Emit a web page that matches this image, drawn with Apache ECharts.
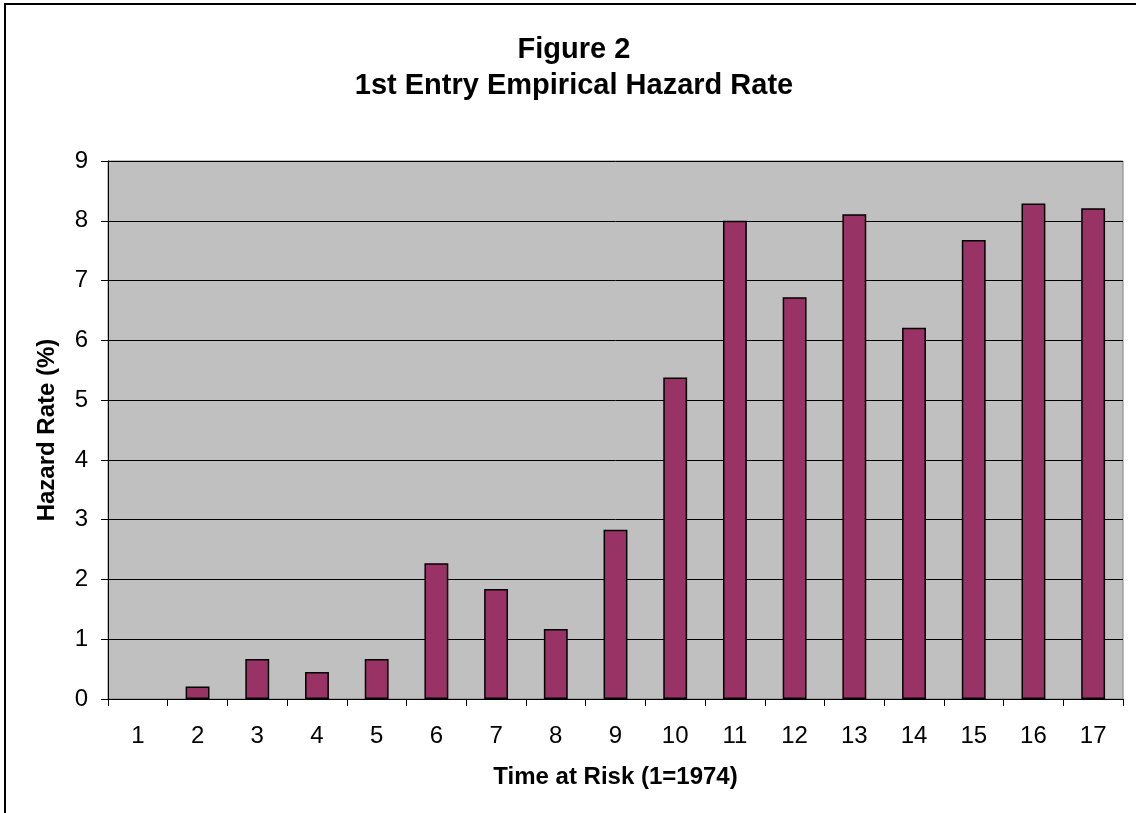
<!DOCTYPE html>
<html>
<head>
<meta charset="utf-8">
<title>Figure 2</title>
<script src="https://cdn.jsdelivr.net/npm/echarts@6/dist/echarts.min.js"></script>
<style>
  html, body {
    margin: 0;
    padding: 0;
    width: 1136px;
    height: 813px;
    overflow: hidden;
    background: #fff;
  }
  #chart {
    position: absolute;
    left: 0;
    top: 0;
    width: 1148px;
    height: 813px;
  }
  .frame {
    position: absolute;
    left: 4px;
    top: 3px;
    width: 1150px;
    height: 830px;
    border: 2px solid #000;
    pointer-events: none;
  }
</style>
</head>
<body>
<div id="chart"></div>
<div class="frame"></div>
<script>
// time at risk, 1 = 1974
const categories = ['1', '2', '3', '4', '5', '6', '7', '8', '9', '10', '11', '12', '13', '14', '15', '16', '17'];
// empirical hazard rate (%)
const hazardRate = [0, 0.21, 0.67, 0.45, 0.67, 2.27, 1.84, 1.17, 2.83, 5.38, 8.0, 6.72, 8.11, 6.21, 7.68, 8.29, 8.21];
const yTicks = [0, 1, 2, 3, 4, 5, 6, 7, 8, 9];

const font = 'Liberation Sans, Arial, sans-serif';

const myChart = echarts.init(document.getElementById('chart'), null, { renderer: 'canvas' });

// zero bars get no outline, like the original
const barData = hazardRate.map(v => (v === 0 ? { value: v, itemStyle: { borderWidth: 0 } } : v));

const options = {
  animation: false,
  title: {
    text: 'Figure 2\n1st Entry Empirical Hazard Rate',
    left: 'center',
    top: 27,
    textStyle: {
      fontFamily: font,
      fontSize: 29,
      fontWeight: 'bold',
      color: '#000',
      lineHeight: 36
    }
  },
  grid: {
    left: 108,
    top: 161,
    right: 25,
    bottom: 114,
    show: true,
    backgroundColor: '#C0C0C0',
    borderColor: '#808080',
    borderWidth: 1
  },
  xAxis: {
    type: 'category',
    data: categories,
    name: 'Time at Risk (1=1974)',
    nameLocation: 'middle',
    nameGap: 66,
    nameTextStyle: {
      fontFamily: font,
      fontSize: 24,
      fontWeight: 'bold',
      color: '#000'
    },
    axisLine: { lineStyle: { color: '#000', width: 1 } },
    axisTick: { show: true, length: 7, inside: false, lineStyle: { color: '#000' } },
    axisLabel: {
      interval: 0,
      margin: 25,
      fontFamily: font,
      fontSize: 24,
      color: '#000'
    }
  },
  yAxis: {
    type: 'value',
    min: yTicks[0],
    max: yTicks[yTicks.length - 1],
    interval: 1,
    name: 'Hazard Rate (%)',
    nameLocation: 'middle',
    nameGap: 49,
    nameTextStyle: {
      fontFamily: font,
      fontSize: 24,
      fontWeight: 'bold',
      color: '#000'
    },
    axisLine: { show: true, lineStyle: { color: '#000', width: 1 } },
    axisTick: { show: true, length: 7, lineStyle: { color: '#000' } },
    axisLabel: {
      margin: 20,
      fontFamily: font,
      fontSize: 24,
      color: '#000'
    },
    splitLine: { show: true, lineStyle: { color: '#000', width: 1 } }
  },
  series: [
    {
      name: 'Hazard Rate',
      type: 'bar',
      data: barData,
      barCategoryGap: '60%',
      itemStyle: {
        color: '#993366',
        borderColor: '#000',
        borderWidth: 1.5
      }
    }
  ]
};

myChart.setOption(options);
</script>
</body>
</html>
